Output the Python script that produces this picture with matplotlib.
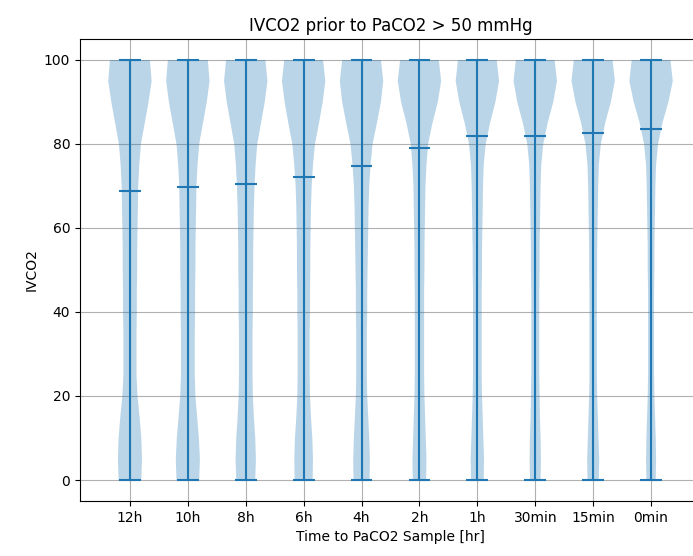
import numpy as np
import matplotlib
matplotlib.use("Agg")
import matplotlib.pyplot as plt

labels = ["12h", "10h", "8h", "6h", "4h", "2h", "1h", "30min", "15min", "0min"]
means = [68.9, 69.8, 70.4, 72.2, 74.8, 79.0, 81.9, 81.9, 82.6, 83.5]
lo = 0
hi = 100

# density profile (relative half widths at each IVCO2 level)
levels = [0, 5, 10, 15, 20, 25, 30, 35, 40, 45, 50, 55, 60, 65, 70, 75, 80, 85, 90, 95, 100]
dens_12h = [33, 35, 33, 28, 22, 19, 19, 19, 20, 20, 21, 21, 22, 23, 24, 27, 32, 43, 54, 63, 58]
dens_10h = [33, 35, 32, 27, 22, 20, 20, 20, 21, 21, 22, 22, 23, 24, 25, 28, 33, 44, 55, 63, 58]
dens_8h = [28, 30, 28, 24, 21, 20, 20, 20, 21, 21, 22, 22, 23, 24, 26, 29, 34, 45, 56, 64, 58]
dens_6h = [27, 28, 26, 22, 19, 18, 18, 18, 19, 19, 20, 20, 21, 22, 24, 28, 34, 46, 57, 65, 58]
dens_4h = [24, 25, 23, 20, 17, 16, 16, 16, 17, 17, 18, 19, 20, 21, 23, 27, 33, 46, 58, 65, 58]
dens_2h = [20, 21, 19, 17, 15, 14, 14, 14, 14, 14, 15, 15, 16, 17, 18, 21, 26, 39, 55, 65, 58]
dens_1h = [19, 20, 18, 16, 14, 13, 13, 13, 13, 13, 14, 14, 15, 16, 17, 19, 25, 38, 54, 65, 58]
dens_30m = [16, 17, 16, 14, 13, 12, 12, 12, 12, 12, 13, 13, 14, 15, 16, 18, 24, 37, 54, 65, 58]
dens_15m = [17, 18, 16, 14, 12, 11, 11, 11, 11, 11, 12, 12, 13, 14, 15, 17, 23, 36, 53, 65, 58]
dens_0m = [14, 15, 14, 12, 10, 9, 9, 9, 9, 9, 10, 10, 11, 12, 13, 15, 21, 34, 52, 65, 58]

densities = [dens_12h, dens_10h, dens_8h, dens_6h, dens_4h,
             dens_2h, dens_1h, dens_30m, dens_15m, dens_0m]

vpstats = []
for d, m in zip(densities, means):
    vpstats.append({
        "coords": np.array(levels, dtype=float),
        "vals": np.array(d, dtype=float),
        "mean": m,
        "median": m,
        "min": lo,
        "max": hi,
    })

positions = np.arange(1, len(labels) + 1)

fig = plt.figure(figsize=(6.93, 5.56), dpi=100)
# the original was cropped on the right, so the axes run a bit past the edge
ax = fig.add_axes([80 / 693, 1 - 501 / 556, (701 - 80) / 693, (501 - 39) / 556])
ax.violin(vpstats, positions=positions, widths=0.75, showmeans=True, showextrema=True)

ax.set_xticks(positions)
ax.set_xticklabels(labels)
ax.set_xlim(0.1375, 10.8625)
ax.set_ylim(-5, 105)
ax.spines["right"].set_visible(False)
ax.grid(True)
ax.set_axisbelow(True)
ax.set_title("IVCO2 prior to PaCO2 > 50 mmHg", fontsize=12)
ax.set_ylabel("IVCO2")
ax.set_xlabel("Time to PaCO2 Sample [hr]")

fig.savefig("out.png", dpi=100)
